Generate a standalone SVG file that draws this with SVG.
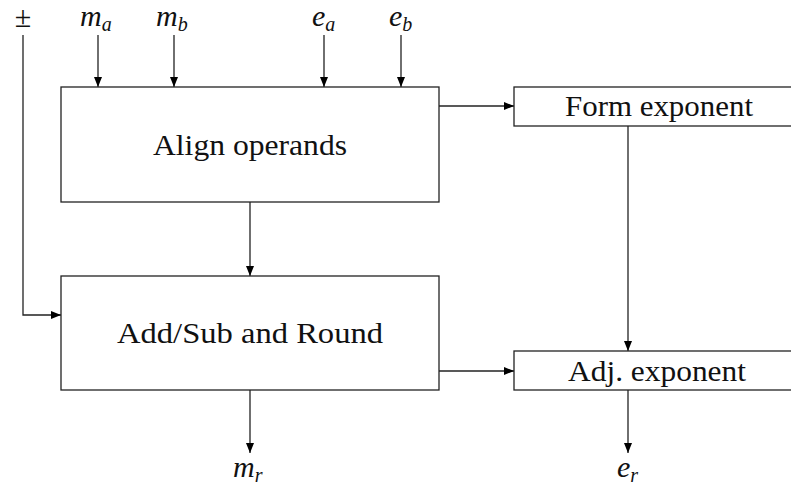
<svg xmlns="http://www.w3.org/2000/svg" width="791" height="492" viewBox="0 0 791 492">
  <defs>
    <marker id="arrow" viewBox="0 0 10 10" refX="10" refY="5" markerWidth="10" markerHeight="10" markerUnits="userSpaceOnUse" orient="auto">
      <path d="M0,1 L10,5 L0,9 z" fill="#000"/>
    </marker>
  </defs>
  <style>
    .box { fill: #fff; stroke: #222; stroke-width: 1.3; }
    .lbl { font-size: 30px; fill: #111; text-anchor: middle; }
    .math { font-size: 30px; font-style: italic; fill: #111; }
    .sub { font-size: 20px; }
    .wire { fill: none; stroke: #222; stroke-width: 1.3; }
    .arr { marker-end: url(#arrow); }
  </style>

  <g id="connectors">
    <line class="wire arr" x1="98" y1="35" x2="98" y2="87"/>
    <line class="wire arr" x1="174" y1="35" x2="174" y2="87"/>
    <line class="wire arr" x1="324" y1="35" x2="324" y2="87"/>
    <line class="wire arr" x1="401" y1="35" x2="401" y2="87"/>
    <polyline class="wire arr" points="23,35 23,315 61,315"/>
    <line class="wire arr" x1="250" y1="202" x2="250" y2="276"/>
    <line class="wire arr" x1="439" y1="106" x2="514" y2="106"/>
    <line class="wire arr" x1="628" y1="126" x2="628" y2="351"/>
    <line class="wire arr" x1="439" y1="371" x2="514" y2="371"/>
    <line class="wire arr" x1="250" y1="390" x2="250" y2="453"/>
    <line class="wire arr" x1="628" y1="390" x2="628" y2="453"/>
  </g>

  <g font-family="Liberation Serif, DejaVu Serif, serif">
    <g id="align">
      <rect class="box" x="61" y="87" width="378" height="115"/>
      <text class="lbl" x="250" y="155" textLength="194" lengthAdjust="spacingAndGlyphs">Align operands</text>
    </g>

    <g id="addsub">
      <rect class="box" x="61" y="276" width="378" height="114"/>
      <text class="lbl" x="250" y="343" textLength="266" lengthAdjust="spacingAndGlyphs">Add/Sub and Round</text>
    </g>

    <g id="form-exp">
      <rect class="box" x="514" y="87" width="290" height="39"/>
      <text class="lbl" x="659" y="116" textLength="188" lengthAdjust="spacingAndGlyphs">Form exponent</text>
    </g>

    <g id="adj-exp">
      <rect class="box" x="514" y="351" width="290" height="39"/>
      <text class="lbl" x="657" y="381" textLength="178" lengthAdjust="spacingAndGlyphs">Adj. exponent</text>
    </g>

    <g id="inputs">
      <text class="lbl" x="23" y="27" font-size="32">±</text>
      <text class="math" x="80" y="26">m<tspan class="sub" dy="5">a</tspan></text>
      <text class="math" x="156" y="26">m<tspan class="sub" dy="5">b</tspan></text>
      <text class="math" x="312" y="26">e<tspan class="sub" dy="5">a</tspan></text>
      <text class="math" x="389" y="26">e<tspan class="sub" dy="5">b</tspan></text>
    </g>

    <g id="outputs">
      <text class="math" x="233" y="477">m<tspan class="sub" dy="5">r</tspan></text>
      <text class="math" x="617" y="477">e<tspan class="sub" dy="5">r</tspan></text>
    </g>
  </g>
</svg>
